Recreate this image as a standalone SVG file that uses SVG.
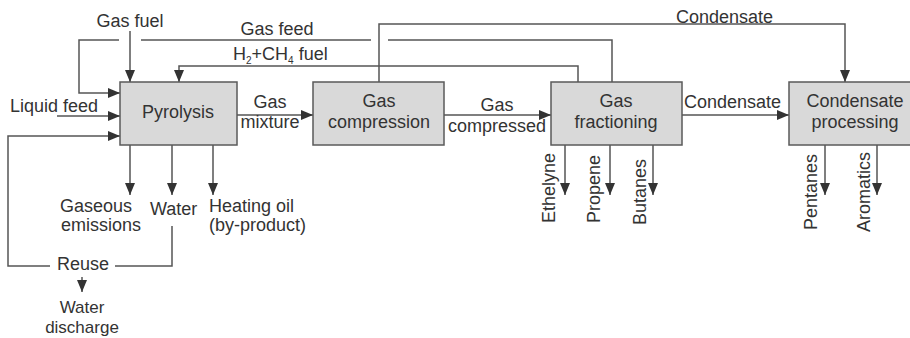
<svg xmlns="http://www.w3.org/2000/svg" width="910" height="338" viewBox="0 0 910 338">
<style>
.box{fill:#d9d9d9;stroke:#5a5a5a;stroke-width:1.5}
.ln{fill:none;stroke:#555;stroke-width:1.5}
.ar{marker-end:url(#ah)}
text{font-family:"Liberation Sans",Arial,sans-serif;font-size:18px;fill:#333}
.m{text-anchor:middle}
.sub{font-size:10px}
.sm{font-size:17px}
</style>
<defs>
<marker id="ah" markerUnits="userSpaceOnUse" markerWidth="12" markerHeight="10" refX="12" refY="5" orient="auto">
<path d="M0,0 L12,5 L0,10 z" fill="#333"/>
</marker>
</defs>
<rect width="910" height="338" fill="#fff"/>
<g id="connectors">
<path class="ln ar" d="M130,31 V82"/>
<path class="ln ar" d="M119,40 H79 V93 H120"/>
<path class="ln" d="M141,40 H371"/>
<path class="ln" d="M388,40 H612 V82"/>
<path class="ln ar" d="M578,82 V66 H179 V82"/>
<path class="ln ar" d="M379,82 V24 H845 V82"/>
<path class="ln ar" d="M57,116 H120"/>
<path class="ln" d="M172,226 V266 H115"/>
<path class="ln ar" d="M50,266 H8 V136 H120"/>
<path class="ln ar" d="M130,145 V195"/>
<path class="ln ar" d="M172,145 V195"/>
<path class="ln ar" d="M213,145 V195"/>
<path class="ln ar" d="M82,277 V292"/>
<path class="ln ar" d="M237,115 H313"/>
<path class="ln ar" d="M444,115 H551"/>
<path class="ln ar" d="M682,115 H789"/>
<path class="ln ar" d="M565,145 V195"/>
<path class="ln ar" d="M610,145 V195"/>
<path class="ln ar" d="M653,145 V195"/>
<path class="ln ar" d="M825,145 V195"/>
<path class="ln ar" d="M877,145 V195"/>
</g>
<g id="pyrolysis">
<rect class="box" x="120" y="82" width="117" height="63"/>
<text class="m" x="178" y="118">Pyrolysis</text>
</g>
<g id="gas-compression">
<rect class="box" x="313" y="82" width="131" height="63"/>
<text class="m" x="379" y="107">Gas</text>
<text class="m" x="379" y="128">compression</text>
</g>
<g id="gas-fractioning">
<rect class="box" x="551" y="82" width="131" height="63"/>
<text class="m" x="616" y="107">Gas</text>
<text class="m" x="616" y="128">fractioning</text>
</g>
<g id="condensate-processing">
<rect class="box" x="789" y="82" width="135" height="63"/>
<text class="m" x="855" y="107">Condensate</text>
<text class="m" x="855" y="128">processing</text>
</g>
<g id="labels">
<text class="m" x="130" y="27">Gas fuel</text>
<text class="m" x="277" y="35">Gas feed</text>
<text x="233" y="60">H<tspan class="sub" dy="4">2</tspan><tspan dy="-4">+CH</tspan><tspan class="sub" dy="4">4</tspan><tspan dy="-4"> fuel</tspan></text>
<text x="676" y="23">Condensate</text>
<text x="10" y="112">Liquid feed</text>
<text class="m" x="270" y="108">Gas</text>
<text class="m" x="270" y="128">mixture</text>
<text class="m" x="497" y="111">Gas</text>
<text class="m" x="497" y="132">compressed</text>
<text x="684" y="108">Condensate</text>
<text x="60" y="212">Gaseous</text>
<text x="61" y="231">emissions</text>
<text x="150" y="215">Water</text>
<text x="209" y="212">Heating oil</text>
<text x="209" y="231">(by-product)</text>
<text x="57" y="270">Reuse</text>
<text class="m sm" x="82" y="313">Water</text>
<text class="m sm" x="82" y="333">discharge</text>
<text x="555" y="223" transform="rotate(-90 555 223)">Ethelyne</text>
<text x="600" y="223" transform="rotate(-90 600 223)">Propene</text>
<text x="646" y="225" transform="rotate(-90 646 225)">Butanes</text>
<text x="817" y="230" transform="rotate(-90 817 230)">Pentanes</text>
<text x="870" y="232" transform="rotate(-90 870 232)">Aromatics</text>
</g>
</svg>
